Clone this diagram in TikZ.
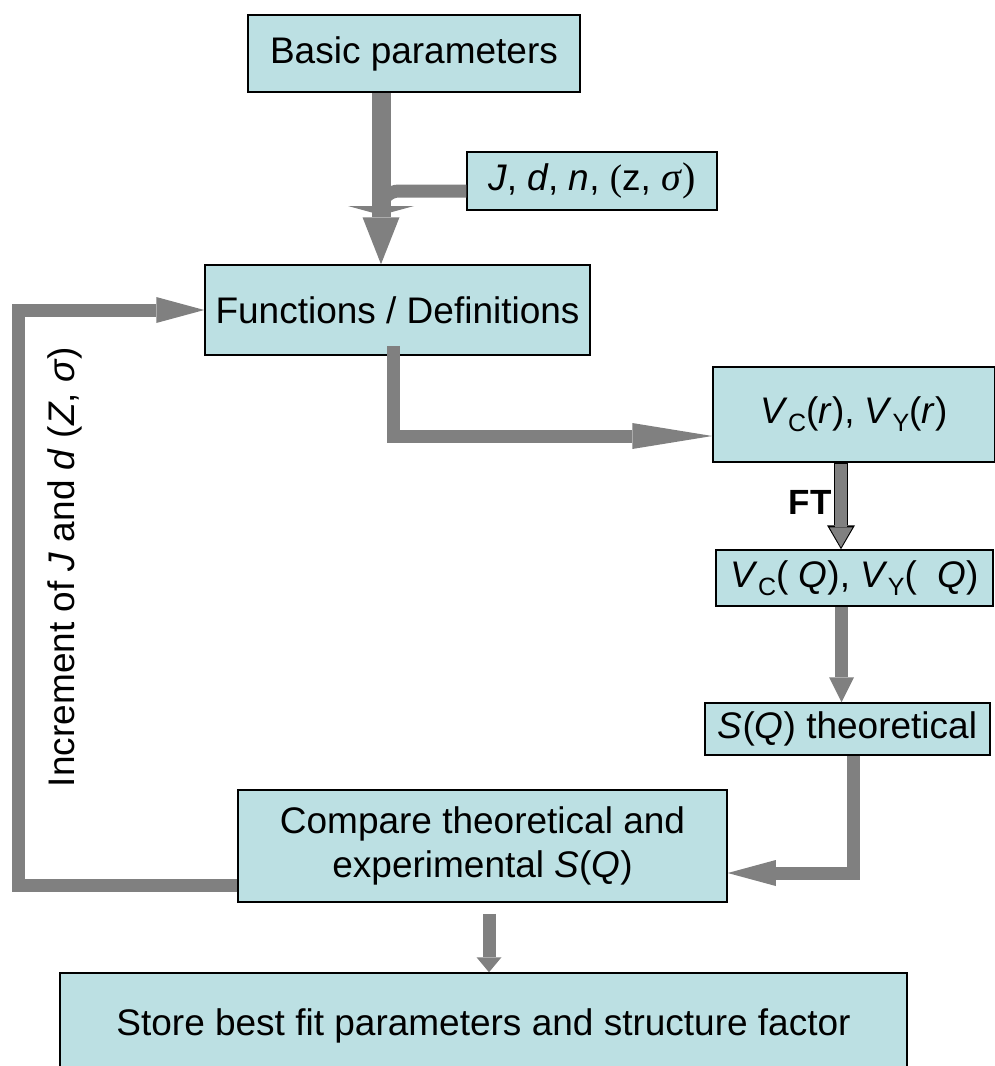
\documentclass[tikz,border=0pt]{standalone}
\usepackage{fontspec}
\setmainfont{Liberation Sans}
\newfontfamily\serifgreek{Liberation Serif}
\usepackage{tikz}
\usetikzlibrary{arrows.meta}

\definecolor{boxcyan}{HTML}{BCE0E3}
\definecolor{arrowgray}{HTML}{808080}
\newcommand{\lowidx}[1]{\raisebox{-0.22em}{\fontsize{25pt}{25pt}\selectfont #1}}

\begin{document}
\begin{tikzpicture}[
  x=1pt, y=-1pt,
  stage/.style={rectangle, draw=black, fill=boxcyan, line width=1.5pt, inner sep=0pt, align=center,
    font=\fontsize{37pt}{44pt}\selectfont},
  flow/.style={draw=arrowgray, line width=13pt, -{Triangle[length=48pt, width=26pt, line width=0pt]}},
  label/.style={font=\fontsize{37pt}{44pt}\selectfont}
]
\useasboundingbox (0,0) rectangle (995,1066);
\clip (0,0) rectangle (995,1066);

% boxes
\node[stage, minimum width=332pt, minimum height=77pt] (basic) at (414,53.5) {Basic parameters};
\node[stage, minimum width=250pt, minimum height=58pt] (params) at (592,181)
  {\textit{J}, \textit{d}, \textit{n}, {\serifgreek(}z, {\serifgreek\fontsize{40pt}{44pt}\selectfont\textit{σ})}};
\node[stage, minimum width=385pt, minimum height=90pt] (func) at (397.5,310) {Functions / Definitions};
\node[stage, minimum width=282pt, minimum height=95pt] (vr) at (854,414.5)
  {\textit{V}\lowidx{C}(\textit{r}), \textit{V}\lowidx{Y}(\textit{r})};
\node[stage, minimum width=277pt, minimum height=56pt] (vq) at (854.5,578)
  {\textit{V}\lowidx{C}(\;\textit{Q}), \textit{V}\lowidx{Y}(\;\;\textit{Q})};
\node[stage, minimum width=285pt, minimum height=52pt] (sq) at (847.5,729)
  {\textit{S}(\textit{Q}) theoretical};
\node[stage, minimum width=489pt, minimum height=112pt] (compare) at (482.5,846)
  {Compare theoretical and\\experimental \textit{S}(\textit{Q})};
\node[stage, minimum width=847pt, minimum height=106pt] (store) at (483.5,1026)
  {Store best fit parameters and structure factor};

% labels
\node[label, rotate=90] (inclabel) at (65,567)
  {Increment of \textit{J} and \textit{d} (\textit{Z}, \textit{σ})};
\node[label, font=\fontsize{35pt}{40pt}\selectfont\bfseries] (ft) at (810,502) {FT};

\coordinate (merge) at (381,215);
\coordinate (loopleft) at (18,600);

% connectors
\draw[draw=arrowgray, line width=13pt, rounded corners=18pt, -{Triangle[length=9pt, width=66pt, line width=0pt]}]
  ([yshift=-10pt]params.west) -| (merge);
\draw[draw=arrowgray, line width=19pt, -{Triangle[length=47pt, width=37pt, line width=0pt]}]
  ([xshift=-33pt]basic.south) -- ([xshift=-33pt]basic.south |- func.north);
\draw[flow, -{Triangle[length=80pt, width=26pt, line width=0pt]}]
  ([xshift=-4.5pt, yshift=10pt]func.south) |- ([yshift=-21.5pt]vr.west);
\draw[line width=14pt, black, -{Triangle[length=24pt, width=28pt, line width=0pt]}]
  ([xshift=-13pt]vr.south) -- ([xshift=-13pt]vr.south |- vq.north);
\draw[line width=11.5pt, arrowgray, shorten >=2pt, -{Triangle[length=20pt, width=23pt, line width=0pt]}]
  ([xshift=-13pt, yshift=-1pt]vr.south) -- ([xshift=-13pt]vr.south |- vq.north);
\draw[flow, -{Triangle[length=25pt, width=25pt, line width=0pt]}]
  ([xshift=-13pt]vq.south) -- ([xshift=-13pt]vq.south |- sq.north);
\draw[flow] ([xshift=5.5pt]sq.south) |- ([yshift=-27pt]compare.east);
\draw[flow, -{Triangle[length=15pt, width=25pt, line width=0pt]}]
  ([xshift=6.5pt, yshift=-11pt]compare.south) -- ([xshift=6.5pt]compare.south |- store.north);
\draw[flow] ([yshift=-39pt]compare.west) -| (loopleft) |- (func.west);

\end{tikzpicture}
\end{document}
